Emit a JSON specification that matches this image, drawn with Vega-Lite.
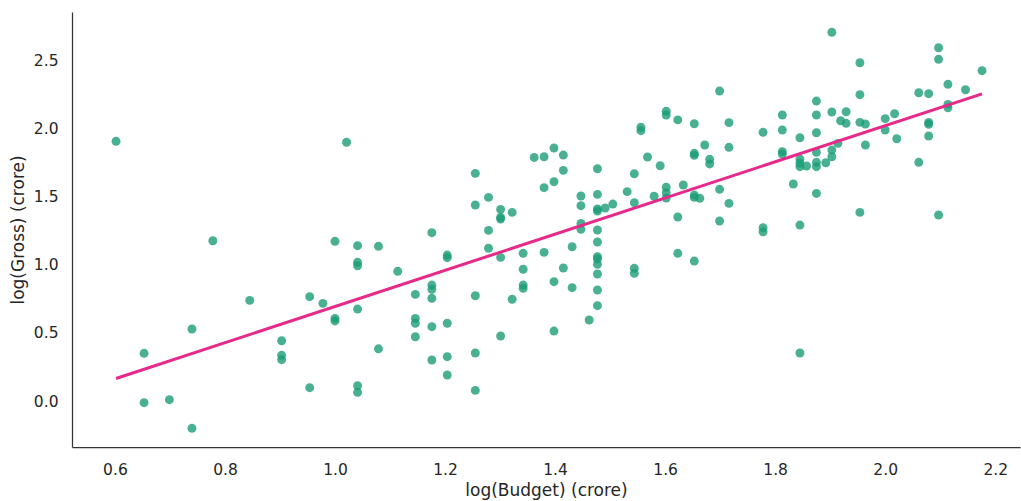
{
  "$schema": "https://vega.github.io/schema/vega-lite/v6.json",
  "width": 948,
  "height": 435,
  "autosize": {"type": "none"},
  "padding": {"left": 72, "top": 12, "right": 1, "bottom": 54},
  "background": "white",
  "config": {
    "view": {"stroke": null},
    "axis": {
      "grid": false,
      "ticks": false,
      "tickSize": 0,
      "domainColor": "#333333",
      "domainWidth": 1.25,
      "labelFont": "DejaVu Sans",
      "labelFontSize": 15.5,
      "labelColor": "#262626",
      "titleFont": "DejaVu Sans",
      "titleFontSize": 17,
      "titleFontWeight": "normal",
      "titleColor": "#262626"
    }
  },
  "data": {
    "values": [
      {"budget_log": 0.602, "gross_log": 1.904},
      {"budget_log": 1.021, "gross_log": 1.897},
      {"budget_log": 0.778, "gross_log": 1.175},
      {"budget_log": 1.0, "gross_log": 1.171},
      {"budget_log": 1.041, "gross_log": 1.139},
      {"budget_log": 1.079, "gross_log": 1.134},
      {"budget_log": 1.041, "gross_log": 1.017},
      {"budget_log": 1.041, "gross_log": 0.992},
      {"budget_log": 0.845, "gross_log": 0.738},
      {"budget_log": 0.954, "gross_log": 0.765},
      {"budget_log": 0.978, "gross_log": 0.716},
      {"budget_log": 1.041, "gross_log": 0.674},
      {"budget_log": 1.0, "gross_log": 0.606},
      {"budget_log": 1.0, "gross_log": 0.587},
      {"budget_log": 0.74, "gross_log": 0.528},
      {"budget_log": 0.903, "gross_log": 0.442},
      {"budget_log": 0.653, "gross_log": 0.35},
      {"budget_log": 0.903, "gross_log": 0.335},
      {"budget_log": 0.903, "gross_log": 0.303},
      {"budget_log": 1.079, "gross_log": 0.383},
      {"budget_log": 0.954, "gross_log": 0.098},
      {"budget_log": 1.041, "gross_log": 0.112},
      {"budget_log": 1.041, "gross_log": 0.064},
      {"budget_log": 0.653, "gross_log": -0.012},
      {"budget_log": 0.699, "gross_log": 0.01},
      {"budget_log": 0.74, "gross_log": -0.2},
      {"budget_log": 1.255, "gross_log": 1.669},
      {"budget_log": 1.255, "gross_log": 1.437},
      {"budget_log": 1.279, "gross_log": 1.493},
      {"budget_log": 1.301, "gross_log": 1.405},
      {"budget_log": 1.301, "gross_log": 1.347},
      {"budget_log": 1.301, "gross_log": 1.334},
      {"budget_log": 1.322, "gross_log": 1.383},
      {"budget_log": 1.176, "gross_log": 1.234},
      {"budget_log": 1.279, "gross_log": 1.251},
      {"budget_log": 1.279, "gross_log": 1.12},
      {"budget_log": 1.362, "gross_log": 1.786},
      {"budget_log": 1.38, "gross_log": 1.791},
      {"budget_log": 1.398, "gross_log": 1.855},
      {"budget_log": 1.415, "gross_log": 1.803},
      {"budget_log": 1.415, "gross_log": 1.691},
      {"budget_log": 1.398, "gross_log": 1.608},
      {"budget_log": 1.38, "gross_log": 1.564},
      {"budget_log": 1.342, "gross_log": 1.083},
      {"budget_log": 1.38, "gross_log": 1.09},
      {"budget_log": 1.431, "gross_log": 1.131},
      {"budget_log": 1.447, "gross_log": 1.503},
      {"budget_log": 1.447, "gross_log": 1.432},
      {"budget_log": 1.447, "gross_log": 1.302},
      {"budget_log": 1.447, "gross_log": 1.259},
      {"budget_log": 1.477, "gross_log": 1.703},
      {"budget_log": 1.477, "gross_log": 1.515},
      {"budget_log": 1.477, "gross_log": 1.408},
      {"budget_log": 1.477, "gross_log": 1.393},
      {"budget_log": 1.491, "gross_log": 1.415},
      {"budget_log": 1.505, "gross_log": 1.444},
      {"budget_log": 1.477, "gross_log": 1.254},
      {"budget_log": 1.477, "gross_log": 1.166},
      {"budget_log": 1.531, "gross_log": 1.535},
      {"budget_log": 1.544, "gross_log": 1.666},
      {"budget_log": 1.544, "gross_log": 1.454},
      {"budget_log": 1.556, "gross_log": 2.007},
      {"budget_log": 1.556, "gross_log": 1.982},
      {"budget_log": 1.568, "gross_log": 1.789},
      {"budget_log": 1.591, "gross_log": 1.725},
      {"budget_log": 1.58, "gross_log": 1.501},
      {"budget_log": 1.602, "gross_log": 2.124},
      {"budget_log": 1.602, "gross_log": 2.097},
      {"budget_log": 1.602, "gross_log": 1.567},
      {"budget_log": 1.602, "gross_log": 1.527},
      {"budget_log": 1.602, "gross_log": 1.488},
      {"budget_log": 1.623, "gross_log": 2.061},
      {"budget_log": 1.633, "gross_log": 1.584},
      {"budget_log": 1.653, "gross_log": 2.033},
      {"budget_log": 1.653, "gross_log": 1.816},
      {"budget_log": 1.653, "gross_log": 1.801},
      {"budget_log": 1.653, "gross_log": 1.51},
      {"budget_log": 1.653, "gross_log": 1.493},
      {"budget_log": 1.672, "gross_log": 1.877},
      {"budget_log": 1.663, "gross_log": 1.486},
      {"budget_log": 1.623, "gross_log": 1.349},
      {"budget_log": 1.623, "gross_log": 1.083},
      {"budget_log": 1.653, "gross_log": 1.026},
      {"budget_log": 1.114, "gross_log": 0.951},
      {"budget_log": 1.204, "gross_log": 1.07},
      {"budget_log": 1.204, "gross_log": 1.051},
      {"budget_log": 1.301, "gross_log": 1.053},
      {"budget_log": 1.342, "gross_log": 0.966},
      {"budget_log": 1.342, "gross_log": 0.85},
      {"budget_log": 1.342, "gross_log": 0.826},
      {"budget_log": 1.415, "gross_log": 0.975},
      {"budget_log": 1.398, "gross_log": 0.875},
      {"budget_log": 1.431, "gross_log": 0.831},
      {"budget_log": 1.322, "gross_log": 0.746},
      {"budget_log": 1.477, "gross_log": 1.058},
      {"budget_log": 1.477, "gross_log": 1.041},
      {"budget_log": 1.477, "gross_log": 1.002},
      {"budget_log": 1.477, "gross_log": 0.931},
      {"budget_log": 1.477, "gross_log": 0.814},
      {"budget_log": 1.477, "gross_log": 0.699},
      {"budget_log": 1.462, "gross_log": 0.594},
      {"budget_log": 1.398, "gross_log": 0.513},
      {"budget_log": 1.544, "gross_log": 0.973},
      {"budget_log": 1.544, "gross_log": 0.936},
      {"budget_log": 1.146, "gross_log": 0.782},
      {"budget_log": 1.146, "gross_log": 0.606},
      {"budget_log": 1.146, "gross_log": 0.57},
      {"budget_log": 1.146, "gross_log": 0.471},
      {"budget_log": 1.176, "gross_log": 0.85},
      {"budget_log": 1.176, "gross_log": 0.819},
      {"budget_log": 1.176, "gross_log": 0.753},
      {"budget_log": 1.176, "gross_log": 0.545},
      {"budget_log": 1.176, "gross_log": 0.301},
      {"budget_log": 1.204, "gross_log": 0.57},
      {"budget_log": 1.204, "gross_log": 0.325},
      {"budget_log": 1.204, "gross_log": 0.191},
      {"budget_log": 1.255, "gross_log": 0.772},
      {"budget_log": 1.255, "gross_log": 0.352},
      {"budget_log": 1.255, "gross_log": 0.078},
      {"budget_log": 1.301, "gross_log": 0.477},
      {"budget_log": 1.681, "gross_log": 1.772},
      {"budget_log": 1.681, "gross_log": 1.738},
      {"budget_log": 1.699, "gross_log": 2.273},
      {"budget_log": 1.716, "gross_log": 2.041},
      {"budget_log": 1.716, "gross_log": 1.86},
      {"budget_log": 1.699, "gross_log": 1.552},
      {"budget_log": 1.716, "gross_log": 1.449},
      {"budget_log": 1.699, "gross_log": 1.32},
      {"budget_log": 1.778, "gross_log": 1.97},
      {"budget_log": 1.778, "gross_log": 1.271},
      {"budget_log": 1.778, "gross_log": 1.241},
      {"budget_log": 1.813, "gross_log": 2.097},
      {"budget_log": 1.813, "gross_log": 1.987},
      {"budget_log": 1.813, "gross_log": 1.828},
      {"budget_log": 1.813, "gross_log": 1.811},
      {"budget_log": 1.833, "gross_log": 1.591},
      {"budget_log": 1.845, "gross_log": 1.93},
      {"budget_log": 1.845, "gross_log": 1.774},
      {"budget_log": 1.845, "gross_log": 1.743},
      {"budget_log": 1.845, "gross_log": 1.718},
      {"budget_log": 1.857, "gross_log": 1.723},
      {"budget_log": 1.845, "gross_log": 1.29},
      {"budget_log": 1.845, "gross_log": 0.352},
      {"budget_log": 1.875, "gross_log": 2.199},
      {"budget_log": 1.875, "gross_log": 2.097},
      {"budget_log": 1.875, "gross_log": 1.967},
      {"budget_log": 1.875, "gross_log": 1.823},
      {"budget_log": 1.875, "gross_log": 1.75},
      {"budget_log": 1.875, "gross_log": 1.718},
      {"budget_log": 1.892, "gross_log": 1.747},
      {"budget_log": 1.875, "gross_log": 1.522},
      {"budget_log": 1.903, "gross_log": 2.703},
      {"budget_log": 1.903, "gross_log": 2.119},
      {"budget_log": 1.903, "gross_log": 1.84},
      {"budget_log": 1.903, "gross_log": 1.791},
      {"budget_log": 1.914, "gross_log": 1.889},
      {"budget_log": 1.919, "gross_log": 2.055},
      {"budget_log": 1.929, "gross_log": 2.121},
      {"budget_log": 1.929, "gross_log": 2.036},
      {"budget_log": 1.954, "gross_log": 2.48},
      {"budget_log": 1.954, "gross_log": 2.246},
      {"budget_log": 1.954, "gross_log": 2.043},
      {"budget_log": 1.964, "gross_log": 2.031},
      {"budget_log": 1.964, "gross_log": 1.877},
      {"budget_log": 1.954, "gross_log": 1.383},
      {"budget_log": 2.0, "gross_log": 2.07},
      {"budget_log": 2.0, "gross_log": 1.987},
      {"budget_log": 2.017, "gross_log": 2.106},
      {"budget_log": 2.021, "gross_log": 1.923},
      {"budget_log": 2.061, "gross_log": 2.26},
      {"budget_log": 2.079, "gross_log": 2.253},
      {"budget_log": 2.079, "gross_log": 2.043},
      {"budget_log": 2.079, "gross_log": 2.029},
      {"budget_log": 2.079, "gross_log": 1.943},
      {"budget_log": 2.061, "gross_log": 1.75},
      {"budget_log": 2.097, "gross_log": 2.59},
      {"budget_log": 2.097, "gross_log": 2.505},
      {"budget_log": 2.097, "gross_log": 1.364},
      {"budget_log": 2.114, "gross_log": 2.322},
      {"budget_log": 2.114, "gross_log": 2.175},
      {"budget_log": 2.114, "gross_log": 2.15},
      {"budget_log": 2.146, "gross_log": 2.282},
      {"budget_log": 2.176, "gross_log": 2.422}
    ]
  },
  "encoding": {
    "x": {
      "field": "budget_log",
      "type": "quantitative",
      "title": "log(Budget) (crore)",
      "scale": {"domain": [0.522, 2.245], "nice": false, "zero": false},
      "axis": {"values": [0.6, 0.8, 1.0, 1.2, 1.4, 1.6, 1.8, 2.0, 2.2], "format": ".1f", "labelPadding": 15, "titlePadding": 5}
    },
    "y": {
      "field": "gross_log",
      "type": "quantitative",
      "title": "log(Gross) (crore)",
      "scale": {"domain": [-0.337, 2.852], "nice": false, "zero": false},
      "axis": {"values": [0, 0.5, 1.0, 1.5, 2.0, 2.5], "format": ".1f", "labelPadding": 14, "titlePadding": 6}
    }
  },
  "layer": [
    {
      "mark": {"type": "circle", "size": 80, "color": "#1b9e77", "opacity": 0.8}
    },
    {
      "transform": [
        {"regression": "gross_log", "on": "budget_log", "extent": [0.602, 2.176]}
      ],
      "mark": {"type": "line", "color": "#e7298a", "strokeWidth": 3}
    }
  ]
}
